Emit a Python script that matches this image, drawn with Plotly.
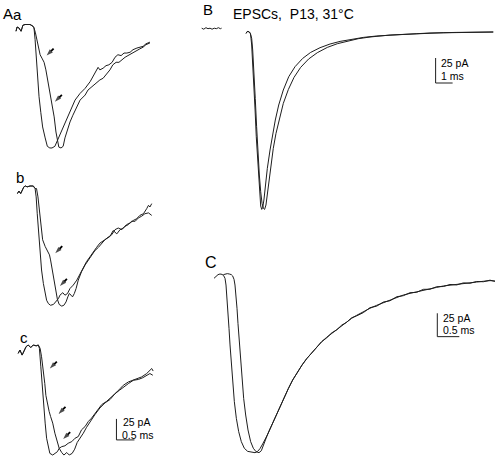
import plotly.graph_objects as go

# ---------------- data (time in ms, current in pA) ----------------
# Panel A a
aa_fast_t = [0, 0.03, 0.08, 0.14, 0.17, 0.19, 0.25, 0.39, 0.47, 0.50, 0.53, 0.56, 0.59, 0.64, 0.69, 0.74, 0.81, 0.87, 0.94, 1.00,
             1.08, 1.17, 1.28, 1.36, 1.44, 1.56, 1.64, 1.78, 1.92, 2.06, 2.19, 2.28, 2.33, 2.42, 2.50, 2.58, 2.67, 2.75, 2.83, 2.92,
             3.00, 3.08, 3.17, 3.25, 3.36, 3.44, 3.53, 3.61, 3.72]
aa_fast_i = [-8, -3, -4, -8, -4, -1, 0, 0, -2, -4, -18, -39, -62, -86, -105, -122, -135, -145, -147, -147,
             -145, -136, -126, -116, -108, -98, -90, -82, -76, -68, -57, -51, -54, -52, -49, -48, -45, -39, -36, -37,
             -34, -34, -33, -30, -28, -27, -26, -23, -21]
aa_slow_t = [0, 0.03, 0.08, 0.14, 0.17, 0.19, 0.25, 0.39, 0.47, 0.50, 0.54, 0.58, 0.63, 0.67, 0.72, 0.78, 0.83, 0.89, 0.94, 1.00,
             1.06, 1.11, 1.15, 1.19, 1.25, 1.31, 1.36, 1.42, 1.50, 1.58, 1.69, 1.78, 1.92, 2.00, 2.11, 2.22, 2.33, 2.42, 2.50, 2.61,
             2.69, 2.78, 2.86, 2.94, 3.03, 3.11, 3.19, 3.28, 3.36, 3.44, 3.53, 3.61, 3.72]
aa_slow_i = [-8, -3, -4, -8, -4, -1, 0, 0, -2, -4, -10, -18, -28, -36, -40, -45, -54, -68, -84, -95,
             -110, -128, -140, -146, -147, -145, -135, -126, -116, -108, -98, -90, -84, -78, -74, -70, -66, -64, -60, -54,
             -48, -45, -45, -42, -39, -37, -35, -33, -30, -29, -27, -24, -22]

# Panel A b
ab_fast_t = [0.04, 0.08, 0.13, 0.18, 0.22, 0.26, 0.31, 0.39, 0.48, 0.53, 0.56, 0.59, 0.63, 0.67, 0.71, 0.76, 0.81, 0.85, 0.90, 0.96,
             1.04, 1.11, 1.18, 1.22, 1.30, 1.36, 1.43, 1.50, 1.59, 1.69, 1.78, 1.87, 1.96, 2.06, 2.15, 2.24, 2.33, 2.43, 2.52, 2.61,
             2.70, 2.80, 2.89, 2.98, 3.07, 3.17, 3.26, 3.35, 3.44, 3.54, 3.63, 3.68, 3.72, 3.77]
ab_fast_i = [-9, -6, -9, -5, -1, 0, -1, 0, 0, -3, -13, -33, -56, -80, -100, -116, -128, -136, -140, -142,
             -141, -138, -134, -130, -127, -130, -128, -122, -118, -112, -104, -96, -90, -84, -78, -73, -68, -65, -62, -60,
             -53, -57, -52, -50, -46, -44, -41, -39, -35, -33, -27, -23, -25, -21]
ab_slow_t = [0.04, 0.08, 0.13, 0.18, 0.22, 0.26, 0.31, 0.39, 0.48, 0.53, 0.57, 0.61, 0.65, 0.69, 0.74, 0.81, 0.87, 0.93, 0.96, 1.01,
             1.06, 1.10, 1.15, 1.20, 1.27, 1.33, 1.39, 1.44, 1.48, 1.53, 1.57, 1.62, 1.67, 1.73, 1.82, 1.92, 2.01, 2.10, 2.19, 2.29,
             2.38, 2.47, 2.56, 2.66, 2.75, 2.84, 2.94, 3.03, 3.12, 3.21, 3.31, 3.40, 3.49, 3.58, 3.68, 3.77]
ab_slow_i = [-9, -6, -9, -5, -1, 0, -1, 0, 0, -3, -3, -13, -29, -48, -64, -72, -78, -82, -88, -100,
             -114, -126, -135, -141, -143, -142, -138, -132, -128, -130, -132, -128, -122, -112, -102, -94, -88, -82, -77, -73,
             -68, -64, -61, -58, -52, -50, -52, -48, -46, -42, -42, -38, -36, -33, -32, -35]

# Panel A c
ac_fast_t = [0.06, 0.11, 0.17, 0.22, 0.28, 0.34, 0.41, 0.48, 0.56, 0.62, 0.65, 0.69, 0.72, 0.76, 0.81, 0.85, 0.90, 0.94, 1.02, 1.08,
             1.15, 1.20, 1.27, 1.36, 1.45, 1.55, 1.64, 1.73, 1.82, 1.92, 2.01, 2.10, 2.24, 2.38, 2.52, 2.66, 2.80, 2.89, 2.98, 3.12,
             3.26, 3.40, 3.49, 3.63, 3.72, 3.77, 3.81]
ac_fast_i = [-10, -6, -12, -8, -2, 0, -3, 0, -1, 0, -4, -26, -46, -69, -93, -111, -123, -129, -131, -129,
             -127, -123, -121, -120, -117, -115, -111, -109, -101, -97, -91, -87, -79, -71, -67, -62, -56, -52, -48, -44,
             -42, -40, -38, -34, -30, -28, -31]
ac_slow_t = [0.06, 0.11, 0.17, 0.22, 0.28, 0.34, 0.41, 0.48, 0.56, 0.62, 0.67, 0.71, 0.76, 0.80, 0.83, 0.87, 0.92, 0.96, 1.02, 1.08,
             1.15, 1.20, 1.27, 1.33, 1.41, 1.48, 1.56, 1.63, 1.70, 1.78, 1.87, 1.96, 2.06, 2.19, 2.33, 2.47, 2.61, 2.75, 2.87, 2.98,
             3.12, 3.26, 3.40, 3.52, 3.63, 3.72, 3.80]
ac_slow_i = [-10, -6, -12, -8, -2, 0, -3, 0, -1, 0, -4, -14, -30, -46, -60, -71, -79, -85, -93, -105,
             -117, -123, -128, -131, -128, -131, -129, -124, -116, -111, -105, -98, -91, -83, -75, -69, -65, -58, -54, -50,
             -46, -42, -41, -39, -36, -34, -36]

# Panel B
b_pre_t = [0.10, 0.22, 0.35, 0.47, 0.59, 0.71, 0.84, 0.96, 1.08, 1.20, 1.27]
b_pre_i = [3.5, 2.5, 4, 3, 3.5, 2.5, 3.5, 3, 4, 3, 3.5]
b_fast_t = [2.71, 2.75, 2.82, 2.90, 2.96, 2.98, 3.04, 3.10, 3.16, 3.24, 3.31, 3.39, 3.45, 3.51, 3.57, 3.63, 3.69, 3.76, 3.84, 3.96,
            4.12, 4.27, 4.43, 4.63, 4.90, 5.22, 5.59, 6.04, 6.51, 7.06, 7.65, 8.24, 8.82, 9.61, 10.39, 11.18, 11.96, 12.75, 13.53, 14.31,
            15.10, 15.88, 16.67, 17.25]
b_fast_i = [-1.7, -0.3, 0.3, -0.3, -1.7, -3.3, -13.3, -30, -51.7, -78.3, -105, -130, -150, -165, -174.3, -177.7, -175.7, -168.3, -155, -136.7,
            -118.3, -101.7, -88.3, -73.3, -58.3, -45, -35, -26.7, -20.7, -16, -12.3, -9.7, -7.7, -5.7, -4.3, -3.3, -2.7, -2, -1.3, -1,
            -0.7, -0.7, -0.3, -0.3]
b_slow_t = [2.71, 2.75, 2.82, 2.90, 2.96, 3.04, 3.10, 3.18, 3.25, 3.33, 3.41, 3.49, 3.57, 3.65, 3.73, 3.80, 3.88, 3.96, 4.04, 4.16,
            4.31, 4.47, 4.67, 4.90, 5.20, 5.53, 5.92, 6.39, 6.90, 7.49, 8.08, 8.67, 9.31, 10.0, 10.78, 11.18, 11.96, 12.75, 13.53, 14.31,
            15.10, 15.88, 16.67, 17.25]
b_slow_i = [-1.7, -0.3, 0.3, -0.3, -1.7, -6.7, -18.3, -40, -66.7, -95, -121.7, -143.3, -160, -171.7, -176.7, -177.7, -173.3, -163.3, -150, -133.3,
            -116.7, -101.7, -86.7, -71.7, -57.7, -45.7, -35.7, -27.3, -21, -15.7, -12, -9.3, -7, -5.3, -3.7, -3.3, -2.7, -2, -1.3, -1,
            -0.7, -0.7, -0.3, -0.3]

# Panel C
c_fast_t = [0, 0.045, 0.091, 0.136, 0.182, 0.22, 0.25, 0.273, 0.295, 0.318, 0.341, 0.364, 0.394, 0.424, 0.462,
            0.508, 0.561, 0.621, 0.689, 0.765, 0.848, 0.932, 0.992, 1.045, 1.106]
c_fast_i = [-4.6, -2.1, -0.7, 0, -0.4, -1.8, -4.6, -11.8, -24.2, -40.3, -58.1, -75.9, -97.3, -116.9, -136.5,
            -154.4, -168.6, -179.3, -186.4, -189.7, -190.7, -191.1, -189.7, -186.8, -181.8]
c_slow_t = [0.212, 0.258, 0.303, 0.348, 0.394, 0.424, 0.455, 0.477, 0.5, 0.523, 0.545, 0.576, 0.606, 0.636, 0.674,
            0.72, 0.773, 0.833, 0.894, 0.955, 1.023, 1.076, 1.121]
c_slow_i = [-0.7, 0, 0.4, 0, -0.7, -2.1, -5.7, -11.8, -22.5, -36.7, -52.8, -72.4, -93.8, -113.4, -133,
            -150.8, -166.8, -179.3, -186.4, -190, -191.1, -189, -182.9]
c_tail_t = [1.159, 1.212, 1.273, 1.348, 1.424, 1.5, 1.591, 1.689, 1.788, 1.894, 2.0, 2.106, 2.22, 2.333, 2.447, 2.561, 2.674, 2.788,
            2.902, 3.015, 3.129, 3.242, 3.394, 3.545, 3.697, 3.848, 4.0, 4.152, 4.303, 4.455, 4.606, 4.758, 4.909, 5.061, 5.212,
            5.364, 5.515, 5.667, 5.818, 5.97, 6.121, 6.273, 6.386]
c_tail_fast_i = [-177.5, -172.2, -165.8, -157.9, -149.7, -141.9, -132.3, -122.6, -113.4, -104.8, -97.4, -90.6, -84.1, -77.7, -72.4,
                 -67.7, -63.5, -59.2, -55.3, -51, -47.4, -44.2, -40.3, -36.7, -33.5, -30.7, -27.8, -25, -22.5, -20.7, -18.9, -17.1,
                 -15.7, -14.3, -12.8, -11.8, -11.1, -10, -9.3, -8.6, -7.8, -7.1, -7.5]
c_tail_slow_i = [-177.5, -172.2, -165.8, -157.9, -149.7, -141.9, -132.3, -122.6, -113.4, -104.8, -97.4, -90.6, -84.1, -77.7, -72.4,
                 -68.3, -63.0, -59.8, -54.7, -51.6, -46.8, -44.8, -41.3, -36.0, -34.4, -30.0, -28.6, -24.3, -23.2, -20.0, -19.6,
                 -16.4, -16.3, -13.6, -13.4, -11.2, -11.7, -9.5, -9.9, -8.0, -8.3, -6.6, -7.9]

# arrows (time ms, current pA of the arrow tip) marking the shoulders
aa_arrow_t = [0.85, 1.08]
aa_arrow_i = [-37, -92]
ab_arrow_t = [1.09, 1.22]
ab_arrow_i = [-80, -119]
ac_arrow_t = [0.94, 1.18, 1.31]
ac_arrow_i = [-28, -82, -112]

# ---------------- layout helpers ----------------
W, H = 500, 464
# panel geometry: (pixel x of t=0, px per ms, pixel y of I=0, px per pA)
panels = {
    "1": (16, 36.0, 24.5, 0.84),    # A a
    "2": (16, 36.0, 186, 0.84),     # A b
    "3": (16, 36.0, 345, 0.84),     # A c
    "4": (200, 17.0, 31.7, 1.0),    # B
    "5": (214, 44.0, 274, 0.935),   # C
}

LINE = dict(color="#1e1e1e", width=1)
fig = go.Figure()


def ax_names(k):
    return ("x" if k == "1" else "x" + k), ("y" if k == "1" else "y" + k)


def add(k, t, i, line=LINE):
    xa, ya = ax_names(k)
    fig.add_trace(go.Scatter(x=t, y=i, mode="lines", line=line, xaxis=xa, yaxis=ya,
                             hoverinfo="skip", showlegend=False))


add("1", aa_fast_t, aa_fast_i)
add("1", aa_slow_t, aa_slow_i)
add("2", ab_fast_t, ab_fast_i)
add("2", ab_slow_t, ab_slow_i)
add("3", ac_fast_t, ac_fast_i)
add("3", ac_slow_t, ac_slow_i)
add("4", b_pre_t, b_pre_i)
add("4", b_fast_t, b_fast_i)
add("4", b_slow_t, b_slow_i)
add("5", c_fast_t + c_tail_t, c_fast_i + c_tail_fast_i)
add("5", c_slow_t + c_tail_t, c_slow_i + c_tail_slow_i)

# scale bars (drawn in each panel's own units)
SB = dict(color="#1e1e1e", width=1)
add("3", [2.79, 2.79, 3.29], [-88, -113, -113], SB)          # A: 25 pA / 0.5 ms
add("4", [13.86, 13.86, 14.86], [-26.3, -51.3, -51.3], SB)   # B: 25 pA / 1 ms
add("5", [5.075, 5.075, 5.575], [-42, -67, -67], SB)         # C: 25 pA / 0.5 ms

# small arrows: a short shaft ending in an arrow-head marker
ARROW_PX = 7
for k, ts, vs in (("1", aa_arrow_t, aa_arrow_i), ("2", ab_arrow_t, ab_arrow_i), ("3", ac_arrow_t, ac_arrow_i)):
    xa, ya = ax_names(k)
    x0, pxms, y0, pxpa = panels[k]
    for t, v in zip(ts, vs):
        fig.add_trace(go.Scatter(
            x=[t + ARROW_PX / pxms, t], y=[v + ARROW_PX / pxpa, v],
            mode="lines+markers", xaxis=xa, yaxis=ya,
            line=dict(color="black", width=1.8),
            marker=dict(symbol="arrow", size=[0, 7], angleref="previous", color="black",
                        line=dict(width=0)),
            hoverinfo="skip", showlegend=False))

layout = dict(width=W, height=H, margin=dict(l=0, r=0, t=0, b=0, autoexpand=False),
              paper_bgcolor="white", plot_bgcolor="rgba(0,0,0,0)")
for k, (x0, pxms, y0, pxpa) in panels.items():
    xa, ya = ax_names(k)
    xr = [(0 - x0) / pxms, (W - x0) / pxms]
    yr = [-(H - y0) / pxpa, y0 / pxpa]
    xkey = "xaxis" if k == "1" else "xaxis" + k
    ykey = "yaxis" if k == "1" else "yaxis" + k
    xd = dict(range=xr, domain=[0, 1], visible=False, fixedrange=True, anchor=ya)
    yd = dict(range=yr, domain=[0, 1], visible=False, fixedrange=True, anchor=xa)
    if k != "1":
        xd["overlaying"] = "x"
        yd["overlaying"] = "y"
    layout[xkey] = xd
    layout[ykey] = yd
fig.update_layout(**layout)

FONT = "Liberation Sans, Arial, sans-serif"


def px(x):
    return x / W


def py(y):
    return 1 - y / H


def label(text, x, y, size, anchor="center"):
    fig.add_annotation(text=text, x=px(x), y=py(y), xref="paper", yref="paper",
                       xanchor=anchor, yanchor="middle", align=anchor if anchor != "center" else "center",
                       showarrow=False, borderpad=0,
                       font=dict(family=FONT, size=size, color="black"))


label("A", 8, 13.5, 15)
label("a", 17.5, 14.5, 15)
label("b", 20, 177, 15)
label("c", 24, 337, 15)
label("B", 208, 9.5, 15)
label("EPSCs,  P13, 31°C", 231.5, 14, 14, "left")
label("C", 211, 262, 16)
label("25 pA", 121.5, 422, 10.5, "left")
label("0.5 ms", 120.5, 434.5, 10.5, "left")
label("25 pA", 440, 63.3, 10.5, "left")
label("1 ms", 440, 75.5, 10.5, "left")
label("25 pA", 441.5, 318, 10.5, "left")
label("0.5 ms", 441.5, 329.5, 10.5, "left")

fig.write_html("out.html", config={"displayModeBar": False, "staticPlot": True},
               post_script="document.body.style.margin='0';")
